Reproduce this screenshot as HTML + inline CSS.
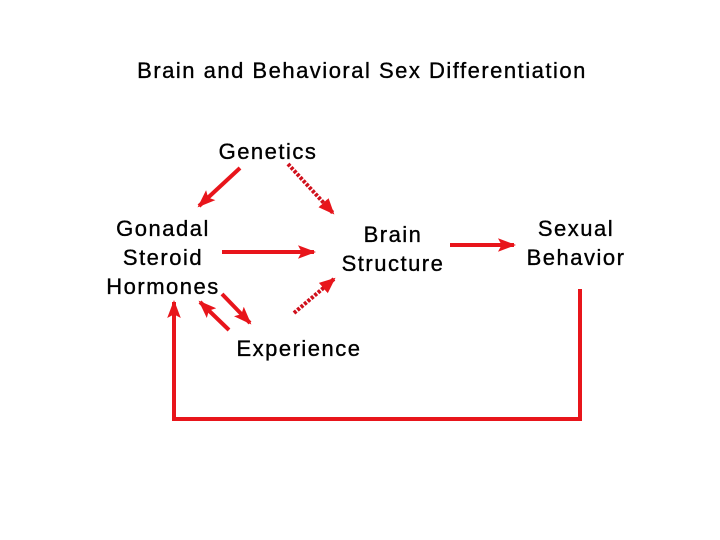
<!DOCTYPE html>
<html><head><style>
html,body{margin:0;padding:0;background:#fff;}
svg{display:block;}
text{font-family:"Liberation Sans",Arial,sans-serif;fill:#000;font-size:22px;letter-spacing:1.5px;stroke:#000;stroke-width:0.35px;}
</style></head><body>
<svg width="720" height="540" viewBox="0 0 720 540">
<defs>
<marker id="a" markerWidth="6" markerHeight="5" refX="4" refY="2" orient="auto" markerUnits="strokeWidth">
<path d="M0,0.3 L4.5,2 L0,3.7 L0.9,2 Z" fill="#e8151b"/></marker>
<marker id="d" markerWidth="6" markerHeight="5" refX="3.5" refY="2" orient="auto" markerUnits="strokeWidth">
<path d="M0,0.3 L4,2 L0,3.7 Z" fill="#e8151b"/></marker>
</defs>
<text x="362" y="78" text-anchor="middle">Brain and Behavioral Sex Differentiation</text>
<text x="268" y="159" text-anchor="middle">Genetics</text>
<text x="163" y="236" text-anchor="middle">Gonadal</text>
<text x="163" y="265" text-anchor="middle">Steroid</text>
<text x="163" y="294" text-anchor="middle">Hormones</text>
<text x="393" y="242" text-anchor="middle">Brain</text>
<text x="393" y="271" text-anchor="middle">Structure</text>
<text x="576" y="236" text-anchor="middle">Sexual</text>
<text x="576" y="265" text-anchor="middle">Behavior</text>
<text x="299" y="356" text-anchor="middle">Experience</text>
<g stroke="#e8151b" stroke-width="4" fill="none">
<line x1="240" y1="168" x2="199" y2="206" marker-end="url(#a)"/>
<line x1="222" y1="252" x2="314" y2="252" marker-end="url(#a)"/>
<line x1="450" y1="245" x2="514" y2="245" marker-end="url(#a)"/>
<line x1="222" y1="294" x2="250" y2="323" marker-end="url(#a)"/>
<line x1="229" y1="330" x2="200" y2="302" marker-end="url(#a)"/>
<polyline points="580,289 580,419 174,419 174,302" marker-end="url(#a)"/>
</g>
<g stroke="#d0101c" stroke-width="4" fill="none" stroke-dasharray="3 1.5">
<line x1="288" y1="164" x2="333" y2="213" marker-end="url(#d)"/>
<line x1="294" y1="313" x2="334" y2="279" marker-end="url(#d)"/>
</g>
</svg>
</body></html>
